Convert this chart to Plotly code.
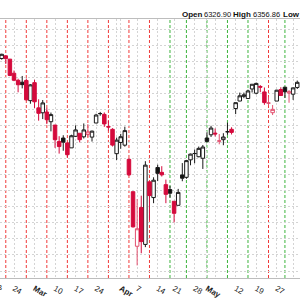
import plotly.graph_objects as go

# ---------------- data ----------------
dates = ["2025-02-14", "2025-02-18", "2025-02-19", "2025-02-20", "2025-02-21",
         "2025-02-24", "2025-02-25", "2025-02-26", "2025-02-27", "2025-02-28",
         "2025-03-03", "2025-03-04", "2025-03-05", "2025-03-06", "2025-03-07",
         "2025-03-10", "2025-03-11", "2025-03-12", "2025-03-13", "2025-03-14",
         "2025-03-17", "2025-03-18", "2025-03-19", "2025-03-20", "2025-03-21",
         "2025-03-24", "2025-03-25", "2025-03-26", "2025-03-27", "2025-03-28",
         "2025-03-31", "2025-04-01", "2025-04-02", "2025-04-03", "2025-04-04",
         "2025-04-07", "2025-04-08", "2025-04-09", "2025-04-10", "2025-04-11",
         "2025-04-14", "2025-04-15", "2025-04-16", "2025-04-17",
         "2025-04-21", "2025-04-22", "2025-04-23", "2025-04-24", "2025-04-25",
         "2025-04-28", "2025-04-29", "2025-04-30", "2025-05-01", "2025-05-02",
         "2025-05-05", "2025-05-06", "2025-05-07", "2025-05-08", "2025-05-09",
         "2025-05-12", "2025-05-13", "2025-05-14", "2025-05-15", "2025-05-16",
         "2025-05-19", "2025-05-20", "2025-05-21", "2025-05-22", "2025-05-23",
         "2025-05-27", "2025-05-28", "2025-05-29", "2025-05-30",
         "2025-06-02", "2025-06-03"]

opens = [6115.5, 6121.6, 6117.8, 6134.5, 6114.1,
         6026.7, 5982.7, 5970.9, 5981.9, 5856.7,
         5968.3, 5812.0, 5781.4, 5785.9, 5726.0,
         5705.4, 5603.7, 5624.8, 5594.5, 5563.9,
         5635.6, 5654.5, 5632.4, 5646.9, 5630.7,
         5718.1, 5775.9, 5771.7, 5695.6, 5679.0,
         5527.9, 5597.5, 5580.8, 5492.7, 5292.1,
         4953.8, 5193.6, 4965.3, 5353.2, 5255.6,
         5442.0, 5412.0, 5335.8, 5305.5,
         5232.9, 5207.7, 5395.9, 5381.4, 5489.7,
         5529.2, 5508.9, 5499.4, 5625.1, 5645.0,
         5655.3, 5605.9, 5614.7, 5663.9, 5679.0,
         5807.8, 5854.4, 5883.4, 5869.7, 5929.1,
         5902.9, 5944.7, 5910.9, 5841.3, 5781.9,
         5854.1, 5925.6, 5939.9, 5903.7,
         5896.7, 5938.6]

highs = [6127.5, 6129.6, 6147.4, 6134.5, 6114.8,
         6043.6, 5992.7, 6009.8, 5993.7, 5959.4,
         5986.1, 5865.1, 5860.6, 5812.1, 5783.0,
         5705.4, 5636.3, 5642.2, 5597.8, 5645.3,
         5703.5, 5654.5, 5715.3, 5711.2, 5670.8,
         5775.1, 5787.0, 5783.6, 5732.3, 5685.9,
         5627.6, 5650.6, 5695.3, 5499.5, 5292.1,
         5246.6, 5267.5, 5481.3, 5353.2, 5381.5,
         5459.5, 5450.4, 5367.2, 5328.3,
         5232.9, 5309.6, 5469.7, 5489.4, 5528.1,
         5553.7, 5572.0, 5581.8, 5658.9, 5700.7,
         5684.0, 5649.6, 5654.8, 5720.1, 5691.7,
         5845.0, 5906.6, 5906.6, 5924.8, 5958.6,
         5968.6, 5953.1, 5938.4, 5878.1, 5829.5,
         5924.3, 5939.9, 5943.1, 5922.1,
         5937.4, 5981.4]

lows = [6107.6, 6099.5, 6111.2, 6084.6, 6008.6,
        5977.4, 5908.5, 5932.7, 5858.8, 5837.7,
        5810.9, 5732.6, 5742.4, 5711.6, 5666.3,
        5564.0, 5528.4, 5546.1, 5504.7, 5563.9,
        5631.1, 5597.8, 5622.2, 5632.4, 5603.1,
        5718.1, 5763.1, 5694.4, 5670.9, 5572.4,
        5488.7, 5558.5, 5571.5, 5390.8, 5069.9,
        4835.0, 4910.4, 4948.4, 5115.3, 5220.8,
        5358.0, 5386.4, 5220.8, 5255.6,
        5101.6, 5207.7, 5357.0, 5372.0, 5455.9,
        5468.6, 5505.7, 5433.2, 5597.4, 5631.5,
        5634.5, 5586.0, 5580.4, 5644.6, 5646.9,
        5773.3, 5853.0, 5871.9, 5867.4, 5907.3,
        5895.7, 5909.3, 5830.9, 5825.8, 5767.4,
        5854.1, 5886.1, 5873.8, 5843.7,
        5861.4, 5929.0]

closes = [6114.63, 6129.58, 6144.15, 6117.52, 6013.13,
          5983.25, 5955.25, 5956.06, 5861.57, 5954.50,
          5849.72, 5778.15, 5842.63, 5738.52, 5770.20,
          5614.56, 5572.07, 5599.30, 5521.52, 5638.94,
          5675.12, 5614.66, 5675.29, 5662.89, 5667.56,
          5767.57, 5776.65, 5712.20, 5693.31, 5580.94,
          5611.85, 5633.07, 5670.97, 5396.52, 5074.08,
          5062.25, 4982.77, 5456.90, 5268.05, 5363.36,
          5405.97, 5396.63, 5275.70, 5282.70,
          5158.20, 5287.76, 5375.86, 5484.77, 5525.21,
          5528.75, 5560.83, 5569.06, 5604.14, 5686.67,
          5650.38, 5606.91, 5631.28, 5663.94, 5659.91,
          5844.19, 5886.55, 5892.58, 5916.93, 5958.38,
          5963.60, 5940.46, 5844.61, 5842.01, 5802.82,
          5921.54, 5888.55, 5912.17, 5911.69,
          5935.94, 5970.37]

# weekly event markers (Thursdays) and their signal
event_dates = ["2025-02-20", "2025-02-27", "2025-03-06", "2025-03-13", "2025-03-20",
               "2025-03-27", "2025-04-03", "2025-04-10", "2025-04-17", "2025-04-24",
               "2025-05-01", "2025-05-08", "2025-05-15", "2025-05-22", "2025-05-29"]
event_signal = ["down", "down", "down", "down", "down",
                "down", "down", "down", "up", "up",
                "up", "up", "up", "down", "up"]

tick_dates = ["2025-02-24", "2025-03-03", "2025-03-10", "2025-03-17", "2025-03-24",
              "2025-03-31", "2025-04-01", "2025-04-07", "2025-04-14", "2025-04-21",
              "2025-04-28", "2025-05-01", "2025-05-05", "2025-05-12", "2025-05-19",
              "2025-05-27", "2025-06-02"]
tick_labels = ["24", "<b>Mar</b>", "10", "17", "24",
               "", "<b>Apr</b>", "7", "14", "21",
               "28", "<b>May</b>", "", "12", "19",
               "27", "<b>Jun</b>"]
cut_label_date, cut_label = "2025-02-18", "18"

header_open, header_high = "6326.90", "6356.86"

# ---------------- build ----------------
pos = {d: i for i, d in enumerate(dates)}
xs = list(range(len(dates)))

blk = {"x": [], "o": [], "h": [], "l": [], "c": []}
red = {"x": [], "o": [], "h": [], "l": [], "c": []}
for i in range(1, len(dates)):
    tgt = blk if closes[i] >= closes[i - 1] else red
    tgt["x"].append(xs[i]); tgt["o"].append(opens[i]); tgt["h"].append(highs[i])
    tgt["l"].append(lows[i]); tgt["c"].append(closes[i])

RED = "#d40a3c"
PINK = "#e2506f"
fig = go.Figure()
fig.add_trace(go.Candlestick(
    x=blk["x"], open=blk["o"], high=blk["h"], low=blk["l"], close=blk["c"],
    increasing=dict(line=dict(color="#1a1a1a", width=1), fillcolor="white"),
    decreasing=dict(line=dict(color="#1a1a1a", width=1), fillcolor="#111111"),
    whiskerwidth=0, showlegend=False, hoverinfo="skip"))
fig.add_trace(go.Candlestick(
    x=red["x"], open=red["o"], high=red["h"], low=red["l"], close=red["c"],
    increasing=dict(line=dict(color=PINK, width=1), fillcolor="white"),
    decreasing=dict(line=dict(color=RED, width=1), fillcolor=RED),
    whiskerwidth=0, showlegend=False, hoverinfo="skip"))

sig_color = {"down": "#f03a3a", "up": "#3cb43c"}
for d, s in zip(event_dates, event_signal):
    fig.add_shape(type="line", xref="x", yref="paper", x0=pos[d], x1=pos[d], y0=0, y1=1,
                  line=dict(color=sig_color[s], width=1, dash="3px,2px"), layer="below")

x_lo, x_hi = 1.59, 74.67
fig.update_xaxes(range=[x_lo, x_hi], tickvals=[pos[d] for d in tick_dates], ticktext=tick_labels,
                 showgrid=True, gridcolor="#d4d4d4", griddash="2px,2px", gridwidth=1,
                 zeroline=False, showline=True, mirror=True, linecolor="#bdbdbd", linewidth=1,
                 ticks="", ticklabelstandoff=2,
                 tickfont=dict(family="Liberation Sans, Arial", size=8, color="#222"),
                 rangeslider=dict(visible=False), fixedrange=True)
fig.update_yaxes(range=[4757, 6363], dtick=100, showgrid=True, gridcolor="#d4d4d4",
                 griddash="2px,2px", gridwidth=1, zeroline=False, showticklabels=False,
                 showline=False, fixedrange=True)

# cut-off first label at left edge
fig.add_annotation(x=(pos[cut_label_date] - x_lo) / (x_hi - x_lo), xref="paper",
                   y=0, yref="paper", yshift=-9, text=cut_label, showarrow=False,
                   xanchor="center", yanchor="middle",
                   font=dict(family="Liberation Sans, Arial", size=8, color="#222"))

hdr_font_b = dict(family="Liberation Sans, Arial", size=8, color="#111")
hdr_font = dict(family="Liberation Sans, Arial", size=7.5, color="#111")
for xpx, txt, f in [(180, "<b>Open</b>", hdr_font_b), (202, header_open, hdr_font),
                    (231, "<b>High</b>", hdr_font_b), (251, header_high, hdr_font),
                    (281, "<b>Low</b>", hdr_font_b)]:
    fig.add_annotation(x=xpx / 300, xref="paper", y=1, yref="paper", yshift=5,
                       text=txt, showarrow=False, xanchor="left", yanchor="middle", font=f)

fig.update_layout(width=300, height=300, margin=dict(l=0, r=0, t=19, b=12),
                  paper_bgcolor="white", plot_bgcolor="white",
                  boxgap=0.15, boxgroupgap=0.0, showlegend=False)

fig.write_html("out.html", config={"displayModeBar": False})
